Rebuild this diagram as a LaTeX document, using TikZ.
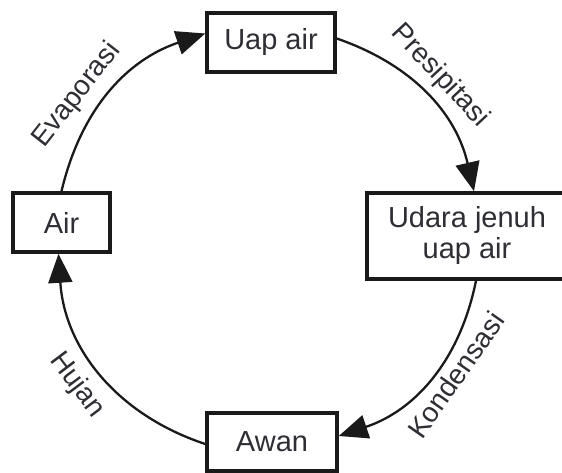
\documentclass[tikz,border=0pt]{standalone}
\usepackage{fontspec}
\setmainfont{Liberation Sans}
\usetikzlibrary{arrows.meta}
\definecolor{ink}{HTML}{1A1A1A}
\definecolor{txt}{HTML}{2E2E34}
\begin{document}
\begin{tikzpicture}[x=1pt,y=-1pt,
  box/.style={draw=ink, line width=3.5pt, fill=white, inner sep=0pt,
    font=\fontsize{29}{31}\selectfont, text=txt, align=center},
  flow/.style={draw=ink, line width=2.3pt, -{Triangle[length=29pt,width=24pt]}},
  lbl/.style={font=\fontsize{28}{30}\selectfont, text=txt, inner sep=0pt}]
\useasboundingbox (0,0) rectangle (562,473);
\clip (0,0) rectangle (562,473);
\fill[white] (0,0) rectangle (562,473);
\node[box, minimum width=97pt, minimum height=59pt] (air) at (61.5,222.5) {Air};
\node[box, minimum width=128pt, minimum height=59pt] (uap) at (271,42.5) {Uap air};
\node[box, minimum width=200pt, minimum height=86pt] (udara) at (467,236) {Udara jenuh\\uap air};
\node[box, minimum width=130pt, minimum height=58pt] (awan) at (272,442) {Awan};
\draw[flow] (air.north) to[bend left=29] ([yshift=9pt]uap.west);
\draw[flow] ([yshift=4pt]uap.east) to[bend left=29] ([xshift=7pt]udara.north);
\draw[flow] ([xshift=9pt]udara.south) to[bend left=30] ([yshift=6pt]awan.east);
\draw[flow] ([yshift=-2pt]awan.west) to[bend left=34] ([xshift=-3pt]air.south);
\node[lbl, rotate=52] (levap) at (77,95) {Evaporasi};
\node[lbl, rotate=-47] (lpres) at (440,76) {Presipitasi};
\node[lbl, rotate=55] (lkond) at (456,375) {Kondensasi};
\node[lbl, rotate=-53] (lhuj) at (77,385) {Hujan};
\end{tikzpicture}
\end{document}
